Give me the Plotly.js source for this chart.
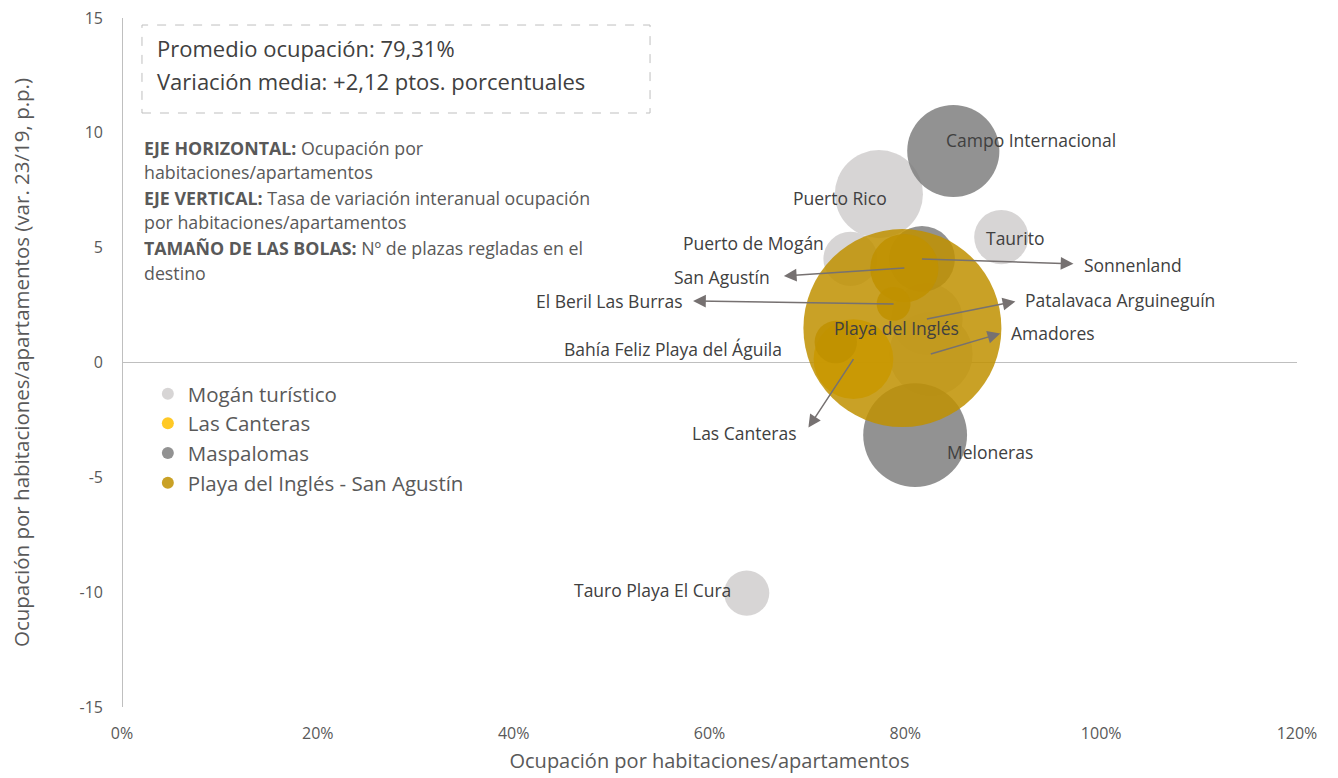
<!DOCTYPE html>
<html>
<head>
<meta charset="utf-8">
<script src="https://cdn.plot.ly/plotly-3.0.1.min.js"></script>
<style>
  html, body { margin: 0; padding: 0; background: #ffffff; }
  #chart { width: 1338px; height: 778px; }
</style>
</head>
<body>
<div id="chart"></div>
<script>
// ---------------- DATA ----------------
const groups = ["Mogán turístico", "Las Canteras", "Maspalomas", "Playa del Inglés - San Agustín"];

const names = [
  "Puerto Rico", "Taurito", "Puerto de Mogán", "Patalavaca Arguineguín", "Amadores", "Tauro Playa El Cura",
  "Las Canteras",
  "Campo Internacional", "Sonnenland", "Meloneras",
  "Playa del Inglés", "San Agustín", "El Beril Las Burras", "Bahía Feliz Playa del Águila"
];
const groupOf = [
  0, 0, 0, 0, 0, 0,
  1,
  2, 2, 2,
  3, 3, 3, 3
];
// Ocupación por habitaciones/apartamentos (%)
const occupancy = [
  77.3, 89.8, 74.4, 82.2, 82.6, 63.8,
  74.7,
  84.9, 81.7, 81.0,
  79.7, 79.9, 78.8, 72.9
];
// Variación 23/19 (p.p.)
const variation = [
  7.33, 5.46, 4.51, 1.89, 0.37, -10.04,
  0.15,
  9.21, 4.51, -3.16,
  1.50, 4.11, 2.55, 0.89
];
// Nº de plazas regladas
const plazas = [
  9500, 3600, 3600, 6300, 8600, 2500,
  7800,
  10400, 5300, 13200,
  48000, 5700, 1400, 2200
];

const yTickVals = [-15, -10, -5, 0, 5, 10, 15];
const yTickLabels = ["-15", "-10", "-5", "0", "5", "10", "15"];

// ---------------- STYLE ----------------
const groupColors = ["#D0CECE", "#FFC000", "#7F7F7F", "#BF9000"];
const FONT = "'Open Sans', 'Noto Sans', sans-serif";
const SIZEREF = 2.4488;

// label placement (pixel shifts from each bubble centre)
const labelStyle = {
  "Campo Internacional":          {xs: 78,   ys: 11,  xa: "center"},
  "Puerto Rico":                  {xs: -39,  ys: -4,  xa: "center"},
  "Taurito":                      {xs: 14,   ys: -1,  xa: "center"},
  "Puerto de Mogán":              {xs: -25,  ys: 16,  xa: "right"},
  "Sonnenland":                   {xs: 160,  ys: -6,  xa: "left"},
  "San Agustín":                  {xs: -132, ys: -9,  xa: "right"},
  "El Beril Las Burras":          {xs: -209, ys: 3,   xa: "right"},
  "Patalavaca Arguineguín":       {xs: 96,   ys: 19,  xa: "left"},
  "Playa del Inglés":             {xs: -6,   ys: 0,   xa: "center"},
  "Amadores":                     {xs: 78,   ys: 21,  xa: "left"},
  "Bahía Feliz Playa del Águila": {xs: -163, ys: -7,  xa: "center"},
  "Las Canteras":                 {xs: -54,  ys: -74, xa: "right"},
  "Meloneras":                    {xs: 75,   ys: -17, xa: "center"},
  "Tauro Playa El Cura":          {xs: -94,  ys: 3,   xa: "center"}
};
// arrows from bubble centre toward label (pixel offsets of the arrow head, screen coords)
const arrowStyle = {
  "Sonnenland":             {ax: 153,  ay: 5},
  "San Agustín":            {ax: -122, ay: 8},
  "El Beril Las Burras":    {ax: -202, ay: -3},
  "Patalavaca Arguineguín": {ax: 90,   ay: -18},
  "Amadores":               {ax: 71,   ay: -21},
  "Las Canteras":           {ax: -46,  ay: 70}
};

// ---------------- TRACES ----------------
const traces = groups.map((g, gi) => {
  const idx = names.map((n, i) => i).filter(i => groupOf[i] === gi);
  return {
    type: "scatter",
    mode: "markers",
    name: g,
    x: idx.map(i => occupancy[i]),
    y: idx.map(i => variation[i]),
    text: idx.map(i => names[i]),
    hovertemplate: "%{text}<br>%{x:.1f}%<br>%{y:.2f} p.p.<extra></extra>",
    marker: {
      color: groupColors[gi],
      opacity: 0.85,
      size: idx.map(i => plazas[i]),
      sizemode: "area",
      sizeref: SIZEREF,
      line: {width: 0}
    }
  };
});

// ---------------- ANNOTATIONS ----------------
const annotations = [];
names.forEach((n, i) => {
  const s = labelStyle[n];
  annotations.push({
    x: occupancy[i], y: variation[i], xref: "x", yref: "y",
    text: n, showarrow: false,
    xanchor: s.xa, yanchor: "middle",
    xshift: s.xs, yshift: s.ys,
    font: {family: FONT, size: 17.5, color: "#404040"}
  });
});
names.forEach((n, i) => {
  const a = arrowStyle[n];
  if (!a) return;
  annotations.push({
    x: occupancy[i], y: variation[i], xref: "x", yref: "y",
    axref: "pixel", ayref: "pixel",
    ax: a.ax, ay: a.ay,
    text: "", showarrow: true,
    arrowside: "start",
    startarrowhead: 2, startarrowsize: 1.7,
    arrowhead: 2, arrowsize: 1.7, arrowwidth: 1.5,
    arrowcolor: "#767171", standoff: 0, startstandoff: 0
  });
});

// info box texts
const boxLines = ["Promedio ocupación: 79,31%", "Variación media: +2,12 ptos. porcentuales"];
const boxY = [0.9565, 0.9086];
boxLines.forEach((t, k) => annotations.push({
  xref: "paper", yref: "paper", x: 0.028, y: boxY[k],
  xanchor: "left", yanchor: "middle", showarrow: false, text: t,
  font: {family: FONT, size: 22, color: "#404040"}
}));

const descLines = [
  "<b>EJE HORIZONTAL:</b> Ocupación por",
  "habitaciones/apartamentos",
  "<b>EJE VERTICAL:</b> Tasa de variación interanual ocupación",
  "por habitaciones/apartamentos",
  "<b>TAMAÑO DE LAS BOLAS:</b> Nº de plazas regladas en el",
  "destino"
];
const descY = [0.8113, 0.7765, 0.7388, 0.7039, 0.6662, 0.6299];
descLines.forEach((t, k) => annotations.push({
  xref: "paper", yref: "paper", x: 0.017, y: descY[k],
  xanchor: "left", yanchor: "middle", showarrow: false, text: t,
  font: {family: FONT, size: 17.8, color: "#595959"}
}));

// ---------------- LAYOUT ----------------
const layout = {
  width: 1338, height: 778,
  margin: {l: 122, r: 41, t: 18, b: 71},
  paper_bgcolor: "#ffffff", plot_bgcolor: "#ffffff",
  font: {family: FONT, color: "#595959"},
  showlegend: true,
  legend: {
    x: 0.022, y: 0.4835, xanchor: "left", yanchor: "top",
    bgcolor: "rgba(0,0,0,0)", borderwidth: 0,
    font: {family: FONT, size: 20.5, color: "#595959"},
    itemsizing: "constant", itemwidth: 30, tracegroupgap: 0
  },
  xaxis: {
    range: [0, 120], dtick: 20, tick0: 0, ticksuffix: "%",
    showgrid: false, showline: false,
    zeroline: true, zerolinecolor: "#BFBFBF", zerolinewidth: 1,
    ticks: "", ticklabelstandoff: 15,
    tickfont: {family: FONT, size: 16, color: "#595959"},
    title: {text: "Ocupación por habitaciones/apartamentos", font: {family: FONT, size: 20, color: "#595959"}, standoff: 10},
    fixedrange: true, automargin: false
  },
  yaxis: {
    range: [-15, 15], tickmode: "array", tickvals: yTickVals, ticktext: yTickLabels,
    showgrid: false, showline: false,
    zeroline: true, zerolinecolor: "#BFBFBF", zerolinewidth: 1,
    ticks: "", ticklabelstandoff: 18,
    tickfont: {family: FONT, size: 16, color: "#595959"},
    title: {text: "Ocupación por habitaciones/apartamentos (var. 23/19, p.p.)", font: {family: FONT, size: 20.5, color: "#595959"}, standoff: 44},
    fixedrange: true, automargin: false
  },
  shapes: [{
    type: "rect", xref: "paper", yref: "paper",
    x0: 0.017, x1: 0.4494, y0: 0.8621, y1: 0.9898,
    line: {color: "#BFBFBF", width: 1, dash: "dash"},
    fillcolor: "rgba(0,0,0,0)"
  }],
  annotations: annotations,
  hovermode: "closest"
};

Plotly.newPlot("chart", traces, layout, {displayModeBar: false, responsive: false});
</script>
</body>
</html>
